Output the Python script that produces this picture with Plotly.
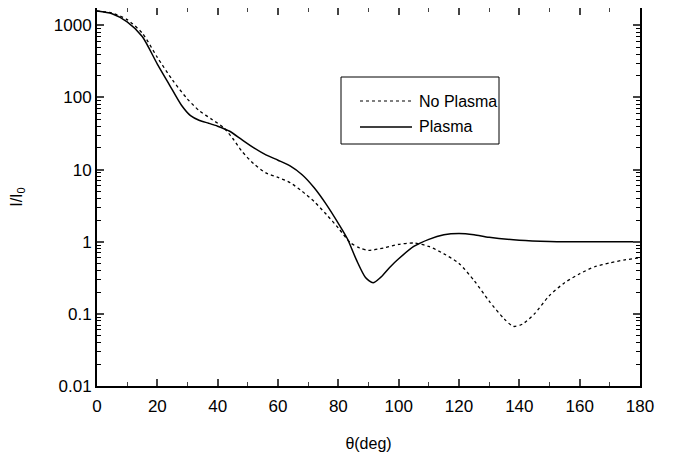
import plotly.graph_objects as go

# data
theta_plasma = [0, 5, 10, 15, 20, 24, 28, 31, 34, 37, 40, 44, 48, 52, 56, 60, 64, 68, 72, 76, 80, 83, 86,
                89, 91.5, 94, 97, 100, 105, 110, 115, 120, 125, 130, 140, 150, 160, 170, 180]
I_plasma = [1580, 1450, 1120, 700, 290, 150, 78, 56, 48, 44, 40, 34, 26, 20, 16, 13.5, 11.3, 8.5, 5.6, 3.3,
            1.8, 1.1, 0.56, 0.32, 0.27, 0.32, 0.44, 0.58, 0.86, 1.08, 1.25, 1.3, 1.25, 1.15, 1.05, 1.01,
            1.0, 1.0, 1.0]

theta_noplasma = [0, 5, 10, 15, 20, 25, 30, 34, 38, 42, 45, 48, 52, 56, 60, 64, 68, 72, 76, 80, 84, 87, 90,
                  95, 100, 105, 110, 115, 120, 125, 130, 135, 138, 141, 145, 150, 155, 160, 165, 170, 175, 180]
I_noplasma = [1580, 1480, 1200, 780, 360, 175, 95, 65, 50, 38, 27, 18, 12, 9, 7.8, 6.6, 5.0, 3.6, 2.4,
              1.55, 0.97, 0.82, 0.76, 0.82, 0.92, 0.96, 0.86, 0.68, 0.5, 0.29, 0.15, 0.085, 0.067, 0.072,
              0.1, 0.18, 0.27, 0.36, 0.45, 0.51, 0.56, 0.6]

x_ticks = [0, 20, 40, 60, 80, 100, 120, 140, 160, 180]
y_tickvals = [0.01, 0.1, 1, 10, 100, 1000]
y_ticktext = ["0.01", "0.1", "1", "10", "100", "1000"]
legend_names = ["No Plasma", "Plasma"]

y_top = 1740
y_minor = [m * 10 ** e for e in range(-2, 4) for m in range(2, 10) if m * 10 ** e <= y_top]

FONT = "Liberation Sans, Arial, Helvetica, sans-serif"

# page has an 8px body margin: figure is drawn at (8, 8)
W, H = 673, 454
L, R, T, B = 89, 41, 0, 76
PW, PH = W - L - R, H - T - B

fig = go.Figure()
fig.add_trace(go.Scatter(x=theta_noplasma, y=I_noplasma, mode="lines", name=legend_names[0],
                         line=dict(color="black", width=1.3, dash="dot", shape="spline", smoothing=0.7),
                         showlegend=False))
fig.add_trace(go.Scatter(x=theta_plasma, y=I_plasma, mode="lines", name=legend_names[1],
                         line=dict(color="black", width=1.5, shape="spline", smoothing=0.7),
                         showlegend=False))
# invisible helper trace so the minor-tick overlay axis is drawn
fig.add_trace(go.Scatter(x=[theta_plasma[-1]], y=[I_plasma[-1]], mode="markers", yaxis="y2",
                         marker=dict(opacity=0), hoverinfo="skip", showlegend=False))

# manual legend, positions given in page pixels
def px_x(p):
    return (p - 8 - L) / PW

def px_y(p):
    return (H - B + 8 - p) / PH

fig.add_shape(type="rect", xref="paper", yref="paper", x0=px_x(341), x1=px_x(499), y0=px_y(144), y1=px_y(77),
              line=dict(color="black", width=1), fillcolor="white", layer="above")
fig.add_shape(type="line", xref="paper", yref="paper", x0=px_x(360), x1=px_x(412), y0=px_y(101), y1=px_y(101),
              line=dict(color="black", width=1.2, dash="dot"))
fig.add_shape(type="line", xref="paper", yref="paper", x0=px_x(360), x1=px_x(412), y0=px_y(127), y1=px_y(127),
              line=dict(color="black", width=1.5))
fig.add_annotation(xref="paper", yref="paper", x=px_x(417), y=px_y(101), text=legend_names[0], showarrow=False,
                   xanchor="left", yanchor="middle", font=dict(family=FONT, size=16, color="black"))
fig.add_annotation(xref="paper", yref="paper", x=px_x(417), y=px_y(127), text=legend_names[1], showarrow=False,
                   xanchor="left", yanchor="middle", font=dict(family=FONT, size=16, color="black"))

fig.update_layout(
    width=W, height=H,
    margin=dict(l=L, r=R, t=T, b=B),
    paper_bgcolor="white", plot_bgcolor="white",
    font=dict(family=FONT, size=16, color="black"),
    xaxis=dict(range=[0, 180], tickvals=x_ticks, ticks="inside", ticklen=7, tickwidth=1.5,
               showline=True, linewidth=2, linecolor="black", mirror="ticks", showgrid=False, zeroline=False,
               minor=dict(ticks="inside", ticklen=4, tickwidth=1.2, dtick=10, showgrid=False),
               ticklabelstandoff=4,
               title=dict(text="θ(deg)", font=dict(size=16), standoff=22),
               tickfont=dict(size=17), automargin=False),
    yaxis=dict(type="log", range=[-2, 3.2405], tickvals=y_tickvals, ticktext=y_ticktext,
               ticks="inside", ticklen=7, tickwidth=1.5,
               showline=True, linewidth=2, linecolor="black", mirror="ticks", showgrid=False, zeroline=False,
               title=dict(text="I/I<sub>0</sub>", font=dict(size=16), standoff=31),
               tickfont=dict(size=17), automargin=False),
    yaxis2=dict(type="log", range=[-2, 3.2405], overlaying="y", side="left", tickvals=y_minor,
                showticklabels=False, ticks="inside", ticklen=4, tickwidth=1.2, tickcolor="black",
                showline=False, mirror="ticks", showgrid=False, zeroline=False, automargin=False),
)

fig.write_html("out.html")
